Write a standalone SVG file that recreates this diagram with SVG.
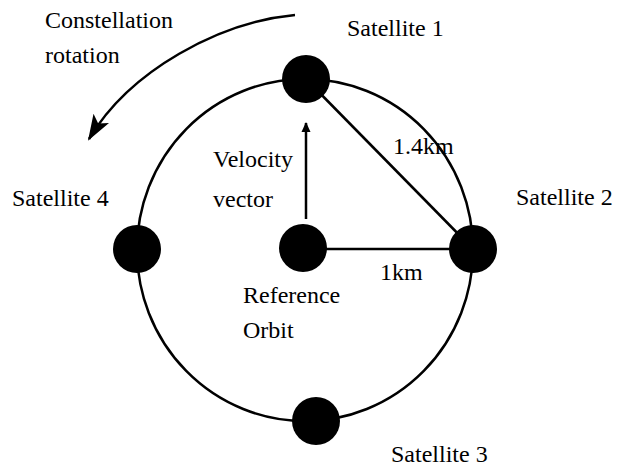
<svg xmlns="http://www.w3.org/2000/svg" width="618" height="468" viewBox="0 0 618 468">
<style>
.sat{fill:#000}
.ln{stroke:#000;stroke-width:2.5;fill:none}
</style>
<defs>
<marker id="ah" markerWidth="10" markerHeight="12" refX="9" refY="6" orient="auto" markerUnits="userSpaceOnUse"><path d="M0,1.5 L10,6 L0,10.5 Z" fill="#000"/></marker>
<marker id="big" markerWidth="26" markerHeight="20" refX="24" refY="10" orient="auto" markerUnits="userSpaceOnUse"><path d="M0,1 L26,10 L0,19 L6,10 Z" fill="#000"/></marker>
</defs>
<g id="orbit"><ellipse cx="305" cy="250" rx="168" ry="171" class="ln"/></g>
<g id="connectors">
<line x1="306" y1="79" x2="473" y2="249" class="ln"/>
<line x1="303" y1="249" x2="473" y2="249" class="ln"/>
<line x1="306" y1="219" x2="306" y2="123" class="ln" stroke-width="2" marker-end="url(#ah)"/>
<path d="M295,15 C220,22 130,70 89,139" class="ln" stroke-width="3" marker-end="url(#big)"/>
</g>
<g font-family="'Liberation Serif', 'Times New Roman', 'DejaVu Serif', serif" font-size="24" fill="#000">
<g id="sat1"><circle cx="306" cy="79" r="24" class="sat"/><text x="347" y="36">Satellite 1</text></g>
<g id="sat2"><circle cx="473" cy="249" r="24" class="sat"/><text x="516" y="205">Satellite 2</text></g>
<g id="sat3"><circle cx="316" cy="421" r="24" class="sat"/><text x="391" y="462">Satellite 3</text></g>
<g id="sat4"><circle cx="137" cy="249" r="24" class="sat"/><text x="12" y="206">Satellite 4</text></g>
<g id="ref"><circle cx="303" cy="248" r="24" class="sat"/><text x="243" y="303">Reference</text><text x="243" y="338">Orbit</text></g>
<g id="labels">
<text x="45" y="28">Constellation</text>
<text x="45" y="63">rotation</text>
<text x="213" y="167">Velocity</text>
<text x="213" y="207">vector</text>
<text x="393" y="154">1.4km</text>
<text x="380" y="280">1km</text>
</g>
</g>
</svg>
